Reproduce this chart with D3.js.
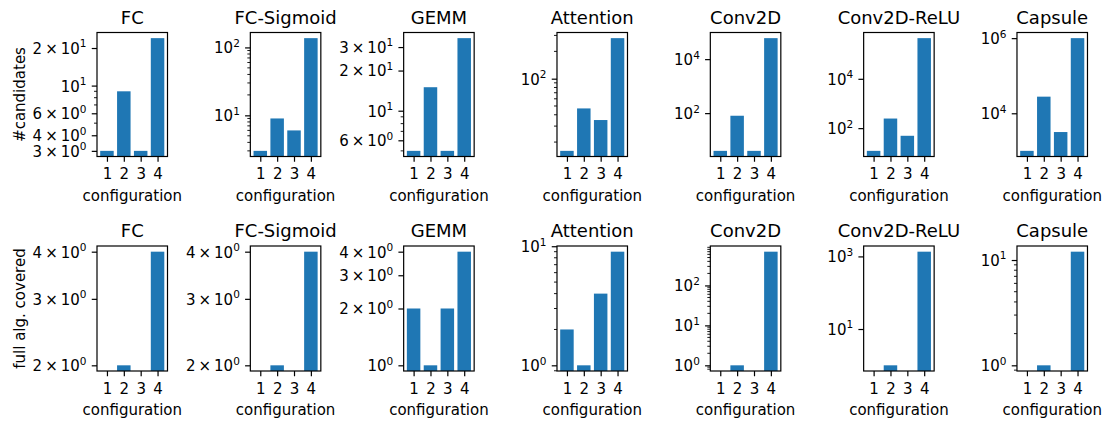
<!DOCTYPE html>
<html>
<head>
<meta charset="utf-8">
<script src="https://cdn.jsdelivr.net/npm/d3@7"></script>
<style>
  body { margin: 0; background: #fff; }
  text { font-family: "DejaVu Sans", sans-serif; fill: #000; }
</style>
</head>
<body>
<script>
//data
var configs = [1, 2, 3, 4];
var kernels = ["FC", "FC-Sigmoid", "GEMM", "Attention", "Conv2D", "Conv2D-ReLU", "Capsule"];

//top row: #candidates per configuration
var candidates = [
  [3, 9, 3, 24],
  [3, 9, 6, 137],
  [5, 15, 5, 35],
  [16, 47, 35, 280],
  [4, 80, 4, 60000],
  [12, 245, 49, 445000],
  [1000, 27700, 3170, 1000000]
];
//bottom row: full alg. covered per configuration (0 = no bar on log axis)
var covered = [
  [0, 2, 0, 4],
  [0, 2, 0, 4],
  [2, 1, 2, 4],
  [2, 1, 4, 9],
  [0, 1, 0, 700],
  [0, 1, 0, 1350],
  [0, 1, 0, 12]
];

//labelled y ticks per panel
var candTicks = [[3, 4, 6, 10, 20], [10, 100], [6, 10, 20, 30], [100], [100, 10000], [100, 10000], [10000, 1000000]];
var covTicks = [[2, 3, 4], [2, 3, 4], [1, 2, 3, 4], [1, 10], [1, 10, 100], [10, 1000], [1, 10]];
//whether unlabelled minor ticks are shown
var candMinor = [true, true, true, true, false, false, false];
var covMinor = [true, true, true, true, true, false, true];

var rowLabels = ["#candidates", "full alg. covered"];

window.onload = function(){
  var w = 1109, h = 424;
  var svg = d3.select("body").append("svg")
    .attr("width", w)
    .attr("height", h);
  svg.append("rect").attr("width", w).attr("height", h).attr("fill", "#fff");

  var pw = 70.5;
  var rows = [
    {top: 32.5, ph: 124, data: candidates, ticks: candTicks, minor: candMinor},
    {top: 246, ph: 125, data: covered, ticks: covTicks, minor: covMinor}
  ];

  var x = d3.scaleLinear().domain([0.41, 4.59]).range([0, pw]);

  function fmt(v){
    var e = Math.floor(Math.log10(v) + 1e-9);
    var m = Math.round(v / Math.pow(10, e));
    return {m: m, e: e};
  }

  rows.forEach(function(row, r){
    kernels.forEach(function(name, k){
      var left = 97 + k * 153.33;
      var vals = row.data[k];
      var pos = vals.filter(function(v){ return v > 0; });
      var lo = Math.log10(d3.min(pos)), hi = Math.log10(d3.max(pos));
      var pad = (hi - lo) * 0.05;
      var y = d3.scaleLog()
        .domain([Math.pow(10, lo - pad), Math.pow(10, hi + pad)])
        .range([row.ph, 0]);

      var g = svg.append("g")
        .attr("transform", "translate(" + left + "," + row.top + ")");

      var clipId = "clip" + r + "_" + k;
      g.append("clipPath").attr("id", clipId)
        .append("rect").attr("width", pw).attr("height", row.ph);

      //bars
      g.append("g").attr("clip-path", "url(#" + clipId + ")")
        .selectAll("rect")
        .data(configs.map(function(c, i){ return {c: c, v: vals[i]}; })
          .filter(function(d){ return d.v > 0; }))
        .enter().append("rect")
        .attr("x", function(d){ return x(d.c - 0.4); })
        .attr("width", x(0.8) - x(0))
        .attr("y", function(d){ return y(d.v); })
        .attr("height", function(d){ return row.ph - y(d.v) + 2; })
        .attr("fill", "#1f77b4");

      //minor ticks
      if (row.minor[k]) {
        var dom = y.domain();
        var minors = [];
        for (var e = Math.floor(Math.log10(dom[0])); e <= Math.ceil(Math.log10(dom[1])); e++) {
          for (var m = 2; m <= 9; m++) {
            var t = m * Math.pow(10, e);
            if (t >= dom[0] && t <= dom[1] && row.ticks[k].indexOf(t) < 0) minors.push(t);
          }
        }
        g.selectAll(".minor").data(minors).enter().append("line")
          .attr("class", "minor")
          .attr("x1", -3).attr("x2", 0)
          .attr("y1", function(d){ return y(d); })
          .attr("y2", function(d){ return y(d); })
          .attr("stroke", "#000").attr("stroke-width", 0.9);
      }

      //y axis with labelled ticks
      var yAxis = g.append("g")
        .call(d3.axisLeft(y).tickValues(row.ticks[k]).tickSize(5.25).tickPadding(5.25).tickSizeOuter(0));
      yAxis.select(".domain").remove();
      yAxis.selectAll(".tick line").attr("stroke-width", 1.2);
      yAxis.selectAll(".tick text")
        .attr("font-size", 15)
        .attr("font-family", "DejaVu Sans")
        .attr("dy", "0.36em")
        .text(null)
        .each(function(d){
          var f = fmt(d);
          var t = d3.select(this);
          t.append("tspan").text(f.m === 1 ? "10" : f.m + "\u2009\u00d7\u200910");
          t.append("tspan").attr("font-size", 10.5).attr("dy", -6.5).text(f.e);
        });

      //x axis
      var xAxis = g.append("g")
        .attr("transform", "translate(0," + row.ph + ")")
        .call(d3.axisBottom(x).tickValues(configs).tickFormat(d3.format("d"))
          .tickSize(5.25).tickPadding(7).tickSizeOuter(0));
      xAxis.select(".domain").remove();
      xAxis.selectAll(".tick line").attr("stroke-width", 1.2);
      xAxis.selectAll(".tick text")
        .attr("font-size", 15)
        .attr("font-family", "DejaVu Sans");

      //frame
      g.append("rect")
        .attr("width", pw).attr("height", row.ph)
        .attr("fill", "none").attr("stroke", "#000").attr("stroke-width", 1.2);

      //title
      g.append("text")
        .attr("x", pw / 2).attr("y", -9)
        .attr("text-anchor", "middle")
        .attr("font-size", 18)
        .text(name);

      //x label
      g.append("text")
        .attr("x", pw / 2).attr("y", row.ph + 44)
        .attr("text-anchor", "middle")
        .attr("font-size", 15)
        .text("configuration");
    });

    //row label
    svg.append("text")
      .attr("transform", "translate(25," + (row.top + row.ph / 2) + ") rotate(-90)")
      .attr("text-anchor", "middle")
      .attr("font-size", 15)
      .text(rowLabels[r]);
  });
};
</script>
</body>
</html>
